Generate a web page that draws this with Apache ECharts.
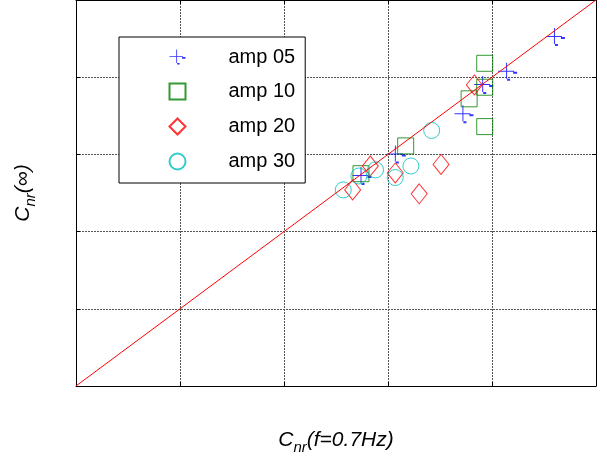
<!DOCTYPE html>
<html>
<head>
<meta charset="utf-8">
<script src="https://cdn.jsdelivr.net/npm/echarts@6/dist/echarts.min.js"></script>
<style>
  html, body { margin: 0; padding: 0; background: #fff; }
  #chart { width: 607px; height: 461px; }
</style>
</head>
<body>
<div id="chart"></div>
<script>
  // values (axis units 0..5, no tick labels shown)
  var amp05 = [[4.61, 4.52], [4.15, 4.07], [3.92, 3.90], [3.73, 3.52], [3.08, 3.00], [2.75, 2.72]];
  var amp10 = [[3.93, 4.18], [3.93, 3.87], [3.78, 3.72], [3.93, 3.36], [3.17, 3.11], [2.74, 2.75]];
  var amp20 = [[3.83, 3.90], [3.51, 2.87], [3.07, 2.76], [2.83, 2.85], [2.66, 2.54], [3.30, 2.49]];
  var amp30 = [[3.42, 3.31], [3.22, 2.85], [3.07, 2.70], [2.88, 2.80], [2.72, 2.72], [2.57, 2.54]];
  var refLine = [[0, 0], [5, 5]];
  var seriesNames = ['amp 05', 'amp 10', 'amp 20', 'amp 30'];
  var colors = ['#0000ff', '#008000', '#ff0000', '#00bfbf'];

  var font = 'Liberation Sans, Arial, sans-serif';
  var plusPath = 'path://M0,8h16v1h-16z M8,0h1v16h-1z M15,9h4v2h-4z M9,16h3v2h-3z';

  var chart = echarts.init(document.getElementById('chart'));

  function frameAxis(pos) {
    return {
      type: 'value', position: pos, min: 0, max: 5, interval: 1,
      axisLine: { show: true, onZero: false, lineStyle: { color: '#000', width: 1 } },
      axisTick: { show: true, inside: true, length: 4, lineStyle: { color: '#000' } },
      axisLabel: { show: false },
      splitLine: { show: false }
    };
  }

  var titleRich = {
    i: { fontFamily: font, fontSize: 21, fontStyle: 'italic', color: '#000' },
    s: { fontFamily: font, fontSize: 15, fontStyle: 'italic', color: '#000', padding: [14, 0, 0, 0] }
  };

  chart.setOption({
    animation: false,
    backgroundColor: '#fff',
    grid: { left: 76, right: 11, top: -3, bottom: 75 },
    legend: {
      orient: 'vertical',
      left: 119, top: 37,
      data: seriesNames,
      backgroundColor: '#fff',
      borderColor: '#000',
      borderWidth: 1,
      padding: [10, 10, 11, 48],
      itemWidth: 16,
      itemHeight: 16,
      itemGap: 14,
      textStyle: { fontFamily: font, fontSize: 20, lineHeight: 20, color: '#000', padding: [0, 0, 0, 38] }
    },
    xAxis: [
      Object.assign(frameAxis('bottom'), {
        name: '{i|C}{s|nr}{i|(f=0.7Hz)}',
        nameLocation: 'middle',
        nameGap: 40,
        nameTextStyle: { rich: titleRich },
        splitLine: { show: true, lineStyle: { color: '#555', type: [2, 1], width: 1 } }
      }),
      frameAxis('top')
    ],
    yAxis: [
      Object.assign(frameAxis('left'), {
        name: '{i|C}{s|nr}{i|(∞)}',
        nameLocation: 'middle',
        nameGap: 38,
        nameTextStyle: { rich: titleRich },
        splitLine: { show: true, lineStyle: { color: '#555', type: [2, 1], width: 1 } }
      }),
      frameAxis('right')
    ],
    series: [
      {
        name: seriesNames[0], type: 'scatter', data: amp05,
        symbol: plusPath, symbolSize: [19, 18],
        itemStyle: { color: colors[0] }
      },
      {
        name: seriesNames[1], type: 'scatter', data: amp10,
        symbol: 'rect', symbolSize: 16,
        itemStyle: { color: 'none', borderColor: colors[1], borderWidth: 1 }
      },
      {
        name: seriesNames[2], type: 'scatter', data: amp20,
        symbol: 'diamond', symbolSize: [16, 20],
        itemStyle: { color: 'none', borderColor: colors[2], borderWidth: 1 }
      },
      {
        name: seriesNames[3], type: 'scatter', data: amp30,
        symbol: 'circle', symbolSize: 16,
        itemStyle: { color: 'none', borderColor: colors[3], borderWidth: 1 }
      },
      {
        type: 'line', data: refLine, symbol: 'none', silent: true,
        lineStyle: { color: '#ff0000', width: 1 }
      }
    ]
  });
</script>
</body>
</html>
